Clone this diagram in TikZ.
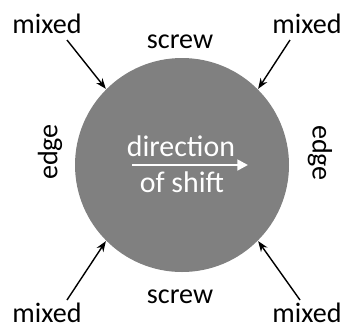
\documentclass[tikz,border=0pt]{standalone}
\usepackage{fontspec}
\setmainfont{Carlito}
\usetikzlibrary{arrows.meta, positioning, shapes}
\definecolor{disk}{RGB}{128,128,128}

\begin{document}
\begin{tikzpicture}[every node/.style={font=\fontsize{16}{19}\selectfont, inner sep=0pt},
                    every path/.style={thick}]
\useasboundingbox (0,0) rectangle (6.9,6.54);

% Loop
\node[circle, fill=disk, minimum size=4.28cm] (C) at (3.64,3.24) {};

% Nodes
\node[anchor=base] (M1) at (0.94,5.88) {mixed};
\node[anchor=base] (M2) at (6.14,5.88) {mixed};
\node[anchor=base] (M3) at (0.94,0.10) {mixed};
\node[anchor=base] (M4) at (6.14,0.10) {mixed};
\node[anchor=base] (S1) at (3.60,5.58) {screw};
\node[anchor=base] (S2) at (3.60,0.48) {screw};
\node[rotate=90]  (E1) at (1.00,3.50) {edge};
\node[rotate=-90] (E2) at (6.40,3.48) {edge};
\node[anchor=base, text=white, font=\fontsize{17}{20}\selectfont] (D1) at (3.62,3.42) {direction};
\node[anchor=base, text=white, font=\fontsize{17}{20}\selectfont] (D2) at (3.64,2.70) {of shift};

\coordinate (T1) at (1.34,5.74);
\coordinate (T2) at (5.80,5.74);
\coordinate (T3) at (1.34,0.54);
\coordinate (T4) at (6.00,0.54);
\coordinate (A1) at (2.64,3.24);
\coordinate (A2) at (4.96,3.24);

% Edges
\draw[-{Stealth[length=6pt,width=4.5pt]}] (T1) -- (C.135);
\draw[-{Stealth[length=6pt,width=4.5pt]}] (T2) -- (C.45);
\draw[-{Stealth[length=6pt,width=4.5pt]}] (T3) -- (C.225);
\draw[-{Stealth[length=6pt,width=4.5pt]}] (T4) -- (C.315);
\draw[white, line width=1.7pt, -{Triangle[length=6pt,width=6pt]}] (A1) -- (A2);

\end{tikzpicture}
\end{document}
